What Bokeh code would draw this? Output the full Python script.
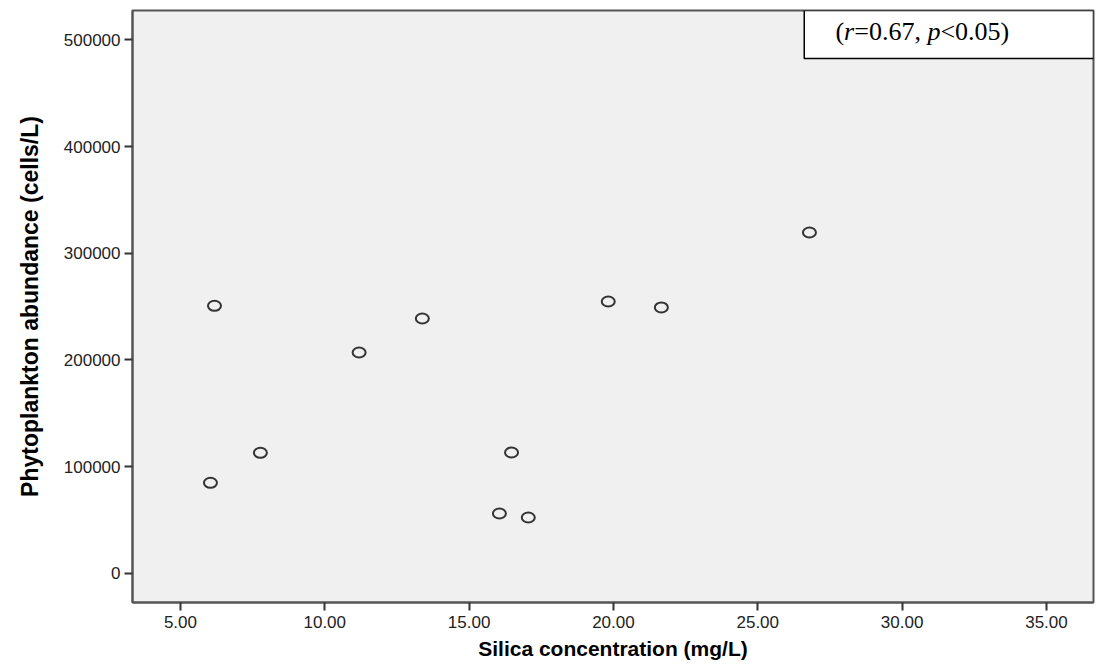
from bokeh.plotting import figure
from bokeh.models import Range1d, FixedTicker, NumeralTickFormatter, BoxAnnotation, Label
from bokeh.embed import file_html
from bokeh.resources import INLINE

silica = [6.18, 6.04, 7.77, 11.19, 13.38, 16.05, 16.47, 17.05, 19.82, 21.66, 26.79]
abundance = [250750, 84770, 112900, 206960, 238840, 55980, 113200, 52230, 254800, 249200, 319500]
x_ticks = [5, 10, 15, 20, 25, 30, 35]
y_ticks = [0, 100000, 200000, 300000, 400000, 500000]

p = figure(width=1096, height=668, output_backend="svg", toolbar_location=None,
           x_range=Range1d(3.34, 36.63), y_range=Range1d(-27475, 527660),
           min_border_left=132, min_border_right=3, min_border_top=10, min_border_bottom=66)
p.background_fill_color = "#f0f0f0"
p.border_fill_color = "white"
p.outline_line_color = "#555555"
p.outline_line_width = 2
p.grid.visible = False

p.xaxis.ticker = FixedTicker(ticks=x_ticks)
p.yaxis.ticker = FixedTicker(ticks=y_ticks)
p.xaxis.formatter = NumeralTickFormatter(format="0.00")
p.yaxis.formatter = NumeralTickFormatter(format="0")
for ax in (p.xaxis[0], p.yaxis[0]):
    ax.axis_line_color = "#555555"
    ax.axis_line_width = 2
    ax.major_tick_line_color = "#333333"
    ax.major_tick_line_width = 2
    ax.major_tick_in = 0
    ax.major_tick_out = 8
    ax.minor_tick_line_color = None
    ax.major_label_text_font = "Liberation Sans"
    ax.major_label_text_font_size = "17px"
    ax.major_label_text_color = "#222222"
    ax.axis_label_text_font = "Liberation Sans"
    ax.axis_label_text_font_style = "bold"
    ax.axis_label_text_color = "black"
p.xaxis.axis_label = "Silica concentration (mg/L)"
p.yaxis.axis_label = "Phytoplankton abundance (cells/L)"
p.xaxis.axis_label_text_font_size = "21px"
p.yaxis.axis_label_text_font_size = "23px"
p.xaxis.major_label_standoff = 5
p.yaxis.major_label_standoff = 4
p.xaxis.axis_label_standoff = 6
p.yaxis.axis_label_standoff = 18

p.ellipse(x=silica, y=abundance, width=13, height=10, width_units="screen", height_units="screen",
          fill_color=None, line_color="#333333", line_width=2)

box = BoxAnnotation(left=26.61, bottom=482650, fill_color="white", fill_alpha=1,
                    line_color="black", line_width=1.5, line_alpha=1)
p.add_layout(box)

parts = [("(", "normal", 0), ("r", "italic", 8.7), ("=0.67, ", "normal", 18.8),
         ("p", "italic", 92), ("<0.05)", "normal", 105)]
for txt, style, off in parts:
    p.add_layout(Label(x=27.69, y=508000, x_offset=off, text=txt, text_font="Liberation Serif",
                       text_font_style=style, text_font_size="26px", text_color="black",
                       text_baseline="alphabetic"))

open("out.html", "w").write(file_html(p, INLINE))
